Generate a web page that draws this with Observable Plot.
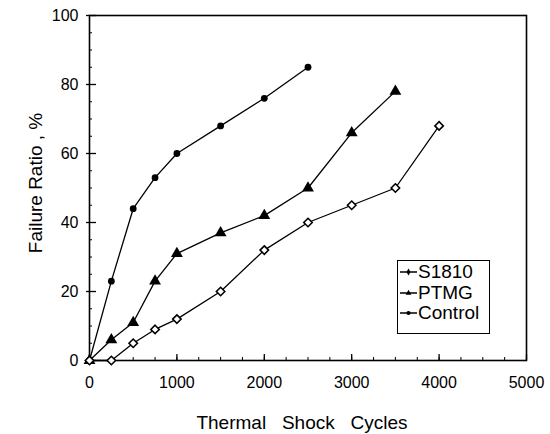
<!DOCTYPE html>
<html>
<head>
<meta charset="utf-8">
<script src="https://cdn.jsdelivr.net/npm/d3@7"></script>
<script src="https://cdn.jsdelivr.net/npm/@observablehq/plot@0.6"></script>
<style>
  body { margin: 0; background: #fff; }
  #wrap { position: relative; width: 550px; height: 434px; font-family: "Liberation Sans", Arial, Helvetica, sans-serif; }
  #legend { position: absolute; left: 397px; top: 260px; width: 91px; height: 71px; border: 1.5px solid #000; background: #fff; padding: 1px 0 0 0; box-sizing: content-box; }
  #legend .row { display: flex; align-items: center; height: 20.5px; font-size: 19px; color: #000; }
  #legend svg { margin: 0 1px 0 2px; }
</style>
</head>
<body>
<div id="wrap"></div>
<script>
// ---- data ----
const cycles = [0, 250, 500, 750, 1000, 1500, 2000, 2500, 3000, 3500, 4000];
const s1810Values   = [0, 0, 5, 9, 12, 20, 32, 40, 45, 50, 68];
const ptmgValues    = [0, 6, 11, 23, 31, 37, 42, 50, 66, 78];
const controlValues = [0, 23, 44, 53, 60, 68, 76, 85];
const seriesNames = ["S1810", "PTMG", "Control"];
const xTicks = [0, 1000, 2000, 3000, 4000, 5000];
const yTicks = [0, 20, 40, 60, 80, 100];
const xMinor = d3.range(0, 5001, 250);
const yMinor = d3.range(0, 101, 5);
const xTitle = "Thermal\u00a0\u00a0\u00a0Shock\u00a0\u00a0\u00a0Cycles";
const yTitle = "Failure\u00a0Ratio\u00a0,\u00a0%";

const toRows = (name, vals) => vals.map((v, i) => ({series: name, x: cycles[i], y: v}));
const s1810 = toRows("S1810", s1810Values);
const ptmg = toRows("PTMG", ptmgValues);
const control = toRows("Control", controlValues);
const all = [...s1810, ...ptmg, ...control];

const chart = Plot.plot({
  width: 550,
  height: 434,
  marginLeft: 89,
  marginRight: 24,
  marginTop: 15,
  marginBottom: 74,
  style: {fontFamily: "'Liberation Sans', Arial, Helvetica, sans-serif", fontSize: "16px", color: "#000", background: "#fff"},
  x: {domain: [0, 5000]},
  y: {domain: [0, 100]},
  marks: [
    Plot.axisX(xTicks, {tickSize: 0, tickPadding: 16, label: null, fontSize: 16, tickFormat: d3.format("d")}),
    Plot.axisX(xTicks, {tickSize: -6, tickFormat: () => "", label: null, strokeWidth: 1.3}),
    Plot.axisX(xMinor, {tickSize: -3, tickFormat: () => "", label: null}),
    Plot.axisY(yTicks, {tickSize: 0, tickPadding: 11, label: null, fontSize: 16}),
    Plot.axisY(yTicks, {tickSize: -7, tickFormat: () => "", label: null, strokeWidth: 1.3}),
    Plot.axisY(yTicks, {tickSize: 3, tickFormat: () => "", label: null, strokeWidth: 1.3}),
    Plot.axisY(yMinor, {tickSize: -3, tickFormat: () => "", label: null}),
    Plot.frame({stroke: "#000", strokeWidth: 1.6}),
    Plot.line(all, {x: "x", y: "y", z: "series", stroke: "#000", strokeWidth: 1.3}),
    Plot.dot(control, {x: "x", y: "y", symbol: "circle", r: 3.4, fill: "#000"}),
    Plot.dot(ptmg, {x: "x", y: "y", symbol: "triangle", r: 4.4, fill: "#000"}),
    Plot.dot(s1810, {x: "x", y: "y", symbol: "diamond2", r: 3.8, fill: "#fff", stroke: "#000", strokeWidth: 1.6}),
    Plot.text([xTitle], {frameAnchor: "bottom", textAnchor: "middle", lineAnchor: "middle", dy: 62, dx: -6, fontSize: 19, fill: "#000"}),
    Plot.text([yTitle], {frameAnchor: "left", textAnchor: "middle", lineAnchor: "middle", rotate: -90, dx: -54, dy: -5, fontSize: 19, fill: "#000"})
  ]
});
const wrap = document.getElementById("wrap");
wrap.appendChild(chart);

// legend (HTML overlay inside the plot frame)
const legend = document.createElement("div");
legend.id = "legend";
const symbols = {S1810: "diamond", PTMG: "triangle", Control: "circle"};
for (const name of seriesNames) {
  const row = document.createElement("div");
  row.className = "row";
  const sw = d3.create("svg").attr("width", 17).attr("height", 12);
  sw.append("line").attr("x1", 0).attr("x2", 17).attr("y1", 6).attr("y2", 6).attr("stroke", "#000").attr("stroke-width", 1.5);
  const sym = symbols[name] === "diamond" ? d3.symbolDiamond : symbols[name] === "triangle" ? d3.symbolTriangle : d3.symbolCircle;
  sw.append("path").attr("d", d3.symbol(sym, 14)()).attr("transform", "translate(8.5,6)").attr("fill", "#000");
  row.appendChild(sw.node());
  const t = document.createElement("span");
  t.textContent = name;
  row.appendChild(t);
  legend.appendChild(row);
}
wrap.appendChild(legend);
</script>
</body>
</html>
